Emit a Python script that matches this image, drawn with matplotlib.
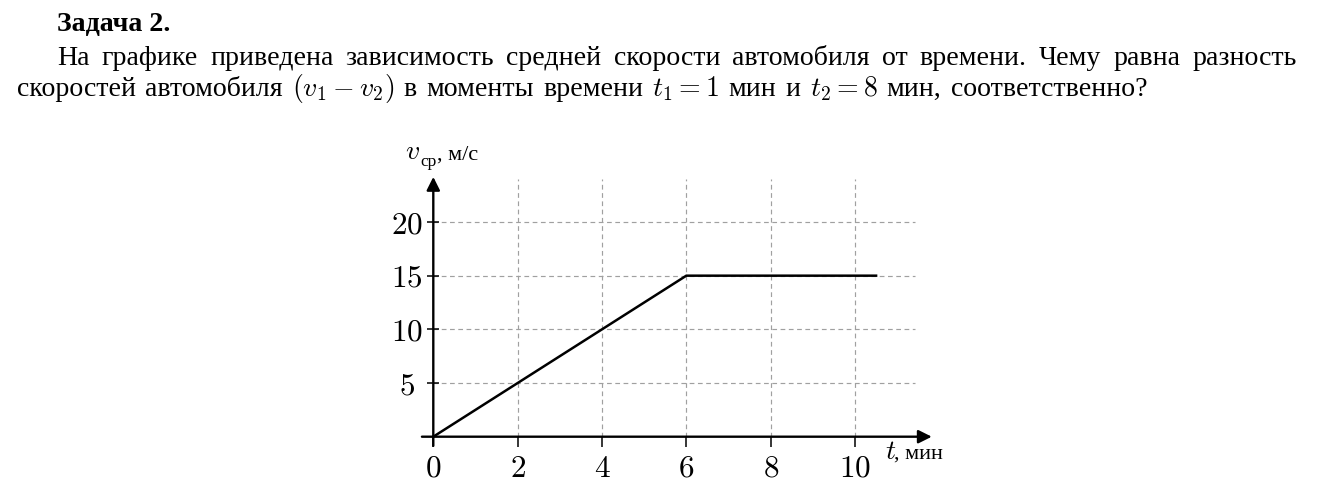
import matplotlib
matplotlib.use("Agg")
import matplotlib.pyplot as plt
from matplotlib.transforms import IdentityTransform

plt.rcParams['mathtext.fontset'] = 'cm'
plt.rcParams['font.family'] = ['Liberation Serif', 'DejaVu Serif']

# ---- data ----
t_values = [0, 6, 10.5]          # time, min
v_values = [0, 15, 15]           # mean speed, m/s
x_ticks = [0, 2, 4, 6, 8, 10]
y_ticks = [5, 10, 15, 20]
x_tick_labels = ["0", "2", "4", "6", "8", "10"]
y_tick_labels = ["5", "10", "15", "20"]

title_text = "Задача 2."
line1_words = ["На", "графике", "приведена", "зависимость", "средней", "скорости",
               "автомобиля", "от", "времени.", "Чему", "равна", "разность"]
line2_words = ["скоростей", "автомобиля", r"$(v_1 - v_2)$", "в", "моменты", "времени",
               r"$t_1 = 1$", "мин", "и", r"$t_2 = 8$", "мин,", "соответственно?"]

W, H = 1328, 504
fig = plt.figure(figsize=(W / 100, H / 100), dpi=100)

# ---- axes placed so that data units map to reference pixels ----
x0_px, y0_px = 433.3, 436.7
sx, sy = 42.17, 10.735
xlim = (-1.0, 12.5)
ylim = (-3.0, 26.5)
left = x0_px + xlim[0] * sx
right = x0_px + xlim[1] * sx
bottom_top = y0_px - ylim[0] * sy
top_top = y0_px - ylim[1] * sy
ax = fig.add_axes([left / W, (H - bottom_top) / H, (right - left) / W, (bottom_top - top_top) / H])
ax.set_xlim(*xlim)
ax.set_ylim(*ylim)
ax.patch.set_visible(False)

for s in ['top', 'right']:
    ax.spines[s].set_visible(False)
ax.spines['left'].set_position(('data', 0))
ax.spines['bottom'].set_position(('data', 0))
ax.spines['left'].set_visible(False)
ax.spines['bottom'].set_visible(False)

ax.set_xticks(x_ticks)
ax.set_xticklabels([f"${s}$" for s in x_tick_labels])
ax.set_yticks(y_ticks)
ax.set_yticklabels([f"${s}$" for s in y_tick_labels])
ax.tick_params(axis='x', direction='out', length=7, width=1.1, pad=6, labelsize=22.5)
ax.tick_params(axis='y', direction='inout', length=9, width=1.1, pad=14.5, labelsize=22.5)
for lbl in ax.get_yticklabels():
    lbl.set_horizontalalignment('center')

# grid
grid_x_end = 11.42
grid_y_end = 24.0
gx = [t for t in x_ticks if t > 0]
ax.vlines(gx, 0, grid_y_end, colors='#a0a0a0', linewidth=0.85, linestyles=(0, (4, 3)), zorder=1)
ax.hlines(y_ticks, 0, grid_x_end, colors='#a0a0a0', linewidth=0.85, linestyles=(0, (4, 3)), zorder=1)

# axes arrows
arrow_kw = dict(arrowstyle='-|>', lw=1.7, color='black', mutation_scale=20, shrinkA=0, shrinkB=0)
ax.annotate('', xy=(11.82, 0), xytext=(-0.27, 0), arrowprops=arrow_kw, zorder=3)
ax.annotate('', xy=(0, 24.2), xytext=(0, -0.85), arrowprops=arrow_kw, zorder=3)

# data line
ax.plot(t_values, v_values, color='black', lw=1.8, zorder=4, solid_joinstyle='miter')

# axis labels
ax.text(-0.66, 25.85, r"$v$", fontsize=20, ha='left', va='baseline')
ax.text(-0.31, 25.25, "ср", fontsize=12.5, ha='left', va='baseline')
ax.text(0.09, 25.85, ", м/с", fontsize=16, ha='left', va='baseline')
ax.text(10.72, -2.05, r"$t$", fontsize=20, ha='left', va='baseline')
ax.text(10.93, -2.05, ", мин", fontsize=16, ha='left', va='baseline')

# ---- paragraph text (justified first line) ----
fig.canvas.draw()
renderer = fig.canvas.get_renderer()


def measure(txt, fs, weight='normal'):
    t = fig.text(0, 0, txt, fontsize=fs, fontweight=weight, transform=IdentityTransform())
    w = t.get_window_extent(renderer).width
    t.remove()
    return w


S0 = 20.0
space_em = 0.333
line2_x0, line2_x1 = 17, 1146
w2 = sum(measure(w, S0) for w in line2_words)
n2 = len(line2_words) - 1
em0 = S0 * 100 / 72
fs = S0 * (line2_x1 - line2_x0) / (w2 + n2 * space_em * em0)
em = fs * 100 / 72


def place_line(words, x_start, x_end, baseline_top, justify):
    widths = [measure(w, fs) for w in words]
    if justify:
        gap = (x_end - x_start - sum(widths)) / (len(words) - 1)
    else:
        gap = space_em * em
    x = x_start
    for w, wd in zip(words, widths):
        fig.text(x, H - baseline_top, w, fontsize=fs, ha='left', va='baseline',
                 transform=IdentityTransform())
        x += wd + gap


fig.text(57, H - 31, title_text, fontsize=fs, fontweight='bold', ha='left', va='baseline',
         transform=IdentityTransform())
place_line(line1_words, 57, 1297, 65, True)
place_line(line2_words, line2_x0, line2_x1, 96, False)

fig.savefig("out.png", dpi=100)
